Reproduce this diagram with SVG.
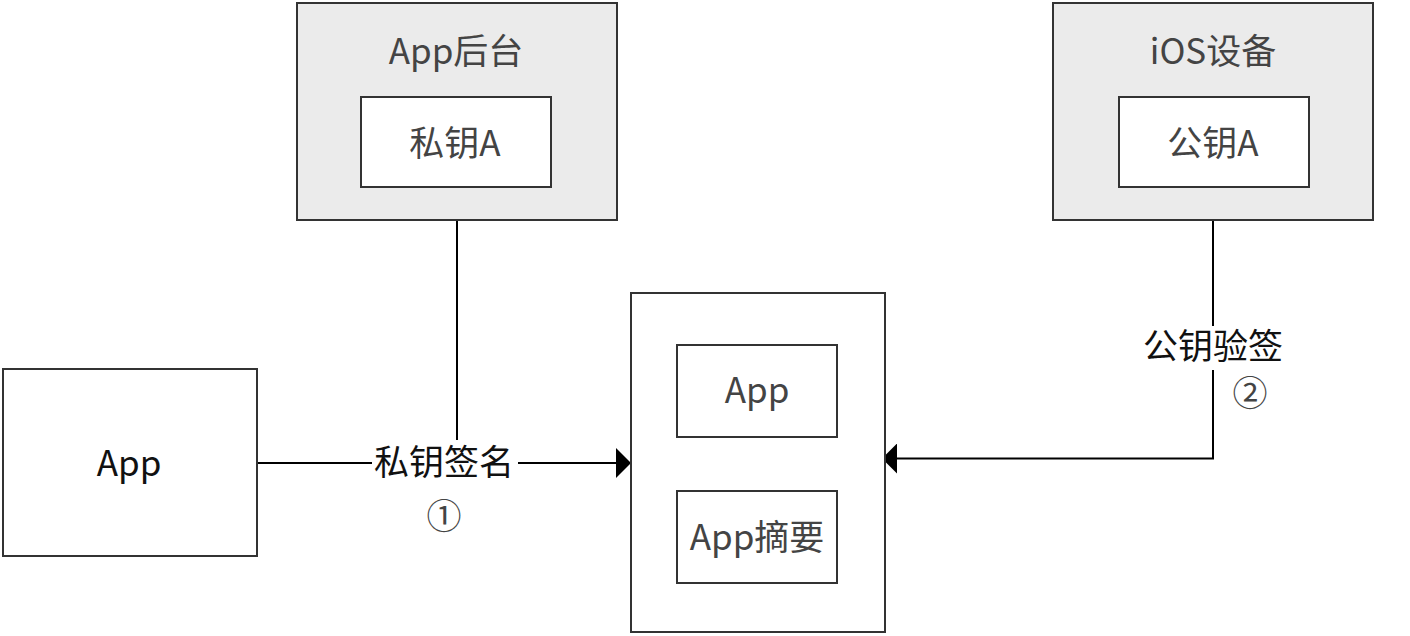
<svg xmlns="http://www.w3.org/2000/svg" width="1410" height="636" viewBox="0 0 1410 636">
<style>
.box{fill:#ffffff;stroke:#333333;stroke-width:2}
.gbox{fill:#ebebeb;stroke:#333333;stroke-width:2}
.t{font-family:"Noto Sans CJK SC","Noto Sans",sans-serif;font-size:35px;fill:#444444;text-anchor:middle}
.tb{fill:#111111}
.lbl{font-family:"Noto Sans CJK SC","Noto Sans",sans-serif;font-size:35px;fill:#111111;text-anchor:middle}
.num{font-family:"Noto Sans CJK SC","Noto Sans",sans-serif;font-size:35px;fill:#444444;text-anchor:middle}
.ln{fill:none;stroke:#000000;stroke-width:2}
</style>
<defs>
<marker id="arr" viewBox="0 0 15 30" refX="15" refY="15" markerWidth="15" markerHeight="30" markerUnits="userSpaceOnUse" orient="auto">
<path d="M0,0 L15,15 L0,30 Z" fill="#000000"/>
</marker>
</defs>
<rect width="1410" height="636" fill="#ffffff"/>
<g id="connectors">
<path class="ln" d="M257,463 L631,463" marker-end="url(#arr)"/>
<path class="ln" d="M457,220 L457,463"/>
<path class="ln" d="M1213,220 L1213,458.5 L882,458.5" marker-end="url(#arr)"/>
<g id="label1">
<rect x="372" y="440" width="146" height="46" fill="#ffffff"/>
<text class="lbl" x="444" y="475">私钥签名</text>
<text class="num" x="444" y="529">①</text>
</g>
<g id="label2">
<rect x="1141" y="326" width="146" height="44" fill="#ffffff"/>
<text class="lbl" x="1213" y="359">公钥验签</text>
<text class="num" x="1250" y="406">②</text>
</g>
</g>
<g id="app-backend">
<rect class="gbox" x="297" y="3" width="320" height="217"/>
<text class="t" x="456" y="64">App后台</text>
</g>
<g id="private-key">
<rect class="box" x="361" y="97" width="190" height="90"/>
<text class="t" x="455" y="156">私钥A</text>
</g>
<g id="ios-device">
<rect class="gbox" x="1053" y="3" width="320" height="217"/>
<text class="t" x="1213" y="64">iOS设备</text>
</g>
<g id="public-key">
<rect class="box" x="1119" y="97" width="190" height="90"/>
<text class="t" x="1213" y="156">公钥A</text>
</g>
<g id="app-left">
<rect class="box" x="3" y="369" width="254" height="187"/>
<text class="t tb" x="129" y="476">App</text>
</g>
<g id="package">
<rect class="box" x="631" y="293" width="254" height="339"/>
</g>
<g id="package-app">
<rect class="box" x="677" y="345" width="160" height="92"/>
<text class="t" x="757" y="403">App</text>
</g>
<g id="package-digest">
<rect class="box" x="677" y="491" width="160" height="92"/>
<text class="t" x="757" y="550">App摘要</text>
</g>
</svg>
